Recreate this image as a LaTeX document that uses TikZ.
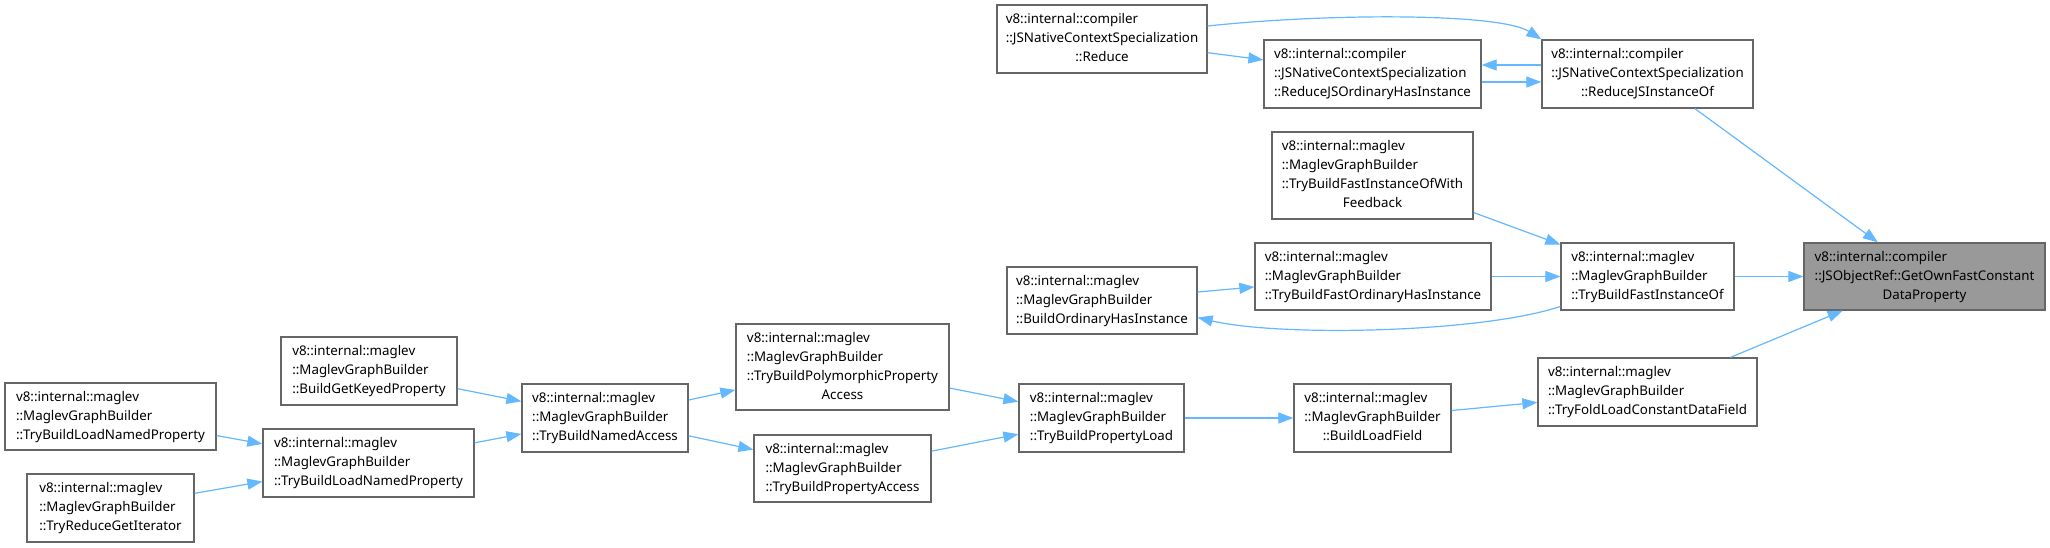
\documentclass[tikz,border=0pt]{standalone}
\usepackage{fontspec}
\setmainfont{Noto Sans}
\usetikzlibrary{arrows.meta}
\definecolor{edgeblue}{HTML}{63B8FF}
\definecolor{boxgray}{HTML}{666666}
\definecolor{targetfill}{HTML}{999999}
\newcommand{\threel}[3]{\begin{tabular}{@{}l@{}}#1\\#2\\\multicolumn{1}{@{}c@{}}{#3}\end{tabular}}
\newcommand{\fourl}[4]{\begin{tabular}{@{}l@{}}#1\\#2\\#3\\\multicolumn{1}{@{}c@{}}{#4}\end{tabular}}
\begin{document}
\begin{tikzpicture}[x=1pt,y=-1pt,
  fn/.style={draw=boxgray, fill=white, line width=1.3pt, inner sep=0pt,
    font=\fontsize{13.33}{19}\selectfont},
  target/.style={fn, fill=targetfill},
  call/.style={draw=edgeblue, line width=1.2pt, -{Triangle[length=15pt,width=11pt]}}
]
\fill[white] (0,0) rectangle (2050,548);
\useasboundingbox (0,0) rectangle (2050,548);

\node[fn, minimum width=210pt, minimum height=68pt] (reduce) at (1102,39)
  {\threel{v8::internal::compiler}{::JSNativeContextSpecialization}{::Reduce}};
\node[fn, minimum width=217pt, minimum height=68pt] (rjsohi) at (1372.5,74)
  {\threel{v8::internal::compiler}{::JSNativeContextSpecialization}{::ReduceJSOrdinaryHasInstance}};
\node[fn, minimum width=211pt, minimum height=68pt] (rjsio) at (1647.5,74)
  {\threel{v8::internal::compiler}{::JSNativeContextSpecialization}{::ReduceJSInstanceOf}};
\node[fn, minimum width=201pt, minimum height=87pt] (feedback) at (1372.5,175.5)
  {\fourl{v8::internal::maglev}{::MaglevGraphBuilder}{::TryBuildFastInstanceOfWith}{Feedback}};
\node[fn, minimum width=236pt, minimum height=67pt] (tbfohi) at (1373,276.5)
  {\threel{v8::internal::maglev}{::MaglevGraphBuilder}{::TryBuildFastOrdinaryHasInstance}};
\node[fn, minimum width=173pt, minimum height=67pt] (tbfio) at (1647.5,276.5)
  {\threel{v8::internal::maglev}{::MaglevGraphBuilder}{::TryBuildFastInstanceOf}};
\node[target, minimum width=241pt, minimum height=67pt] (target) at (1924.5,276.5)
  {\threel{v8::internal::compiler}{::JSObjectRef::GetOwnFastConstant}{DataProperty}};
\node[fn, minimum width=190pt, minimum height=67pt] (bohi) at (1102,300.5)
  {\threel{v8::internal::maglev}{::MaglevGraphBuilder}{::BuildOrdinaryHasInstance}};
\node[fn, minimum width=219pt, minimum height=68pt] (foldload) at (1647.5,392)
  {\threel{v8::internal::maglev}{::MaglevGraphBuilder}{::TryFoldLoadConstantDataField}};
\node[fn, minimum width=157pt, minimum height=68pt] (loadfield) at (1372.5,418)
  {\threel{v8::internal::maglev}{::MaglevGraphBuilder}{::BuildLoadField}};
\node[fn, minimum width=165pt, minimum height=68pt] (tbpl) at (1101.5,418)
  {\threel{v8::internal::maglev}{::MaglevGraphBuilder}{::TryBuildPropertyLoad}};
\node[fn, minimum width=213pt, minimum height=86pt] (poly) at (842.5,367)
  {\fourl{v8::internal::maglev}{::MaglevGraphBuilder}{::TryBuildPolymorphicProperty}{Access}};
\node[fn, minimum width=177pt, minimum height=67pt] (propacc) at (842.5,468.5)
  {\threel{v8::internal::maglev}{::MaglevGraphBuilder}{::TryBuildPropertyAccess}};
\node[fn, minimum width=166pt, minimum height=68pt] (tbna) at (605,418)
  {\threel{v8::internal::maglev}{::MaglevGraphBuilder}{::TryBuildNamedAccess}};
\node[fn, minimum width=176pt, minimum height=68pt] (bgkp) at (369,371)
  {\threel{v8::internal::maglev}{::MaglevGraphBuilder}{::BuildGetKeyedProperty}};
\node[fn, minimum width=211pt, minimum height=68pt] (tblnpR) at (368.5,463)
  {\threel{v8::internal::maglev}{::MaglevGraphBuilder}{::TryBuildLoadNamedProperty}};
\node[fn, minimum width=211pt, minimum height=67pt] (tblnpL) at (110.5,416.5)
  {\threel{v8::internal::maglev}{::MaglevGraphBuilder}{::TryBuildLoadNamedProperty}};
\node[fn, minimum width=167pt, minimum height=68pt] (trgi) at (110.5,508)
  {\threel{v8::internal::maglev}{::MaglevGraphBuilder}{::TryReduceGetIterator}};

\draw[call] (reduce) -- (rjsohi);
\draw[call] ([yshift=13pt]reduce.east) .. controls (1330,13) and (1500,13) .. (rjsio.north west);
\draw[call] ([yshift=9pt]rjsio.west) -- ([yshift=9pt]rjsohi.east);
\draw[call] ([yshift=-8pt]rjsohi.east) -- ([yshift=-8pt]rjsio.west);
\draw[call] (rjsio) -- (target);
\draw[call] (feedback) -- (tbfio);
\draw[call] (tbfohi) -- (tbfio);
\draw[call] (tbfio) -- (target);
\draw[call] ([yshift=-30pt]tbfio.west) .. controls (1480,333) and (1280,337) .. ([yshift=-17pt]bohi.east);
\draw[call] (bohi) -- (tbfohi);
\draw[call] (foldload) -- (target);
\draw[call] (loadfield) -- (foldload);
\draw[call] (tbpl) -- (loadfield);
\draw[call] (poly) -- (tbpl);
\draw[call] (propacc) -- (tbpl);
\draw[call] (tbna) -- (poly);
\draw[call] (tbna) -- (propacc);
\draw[call] (bgkp) -- (tbna);
\draw[call] (tblnpR) -- (tbna);
\draw[call] (tblnpL) -- (tblnpR);
\draw[call] (trgi) -- (tblnpR);
\end{tikzpicture}
\end{document}
